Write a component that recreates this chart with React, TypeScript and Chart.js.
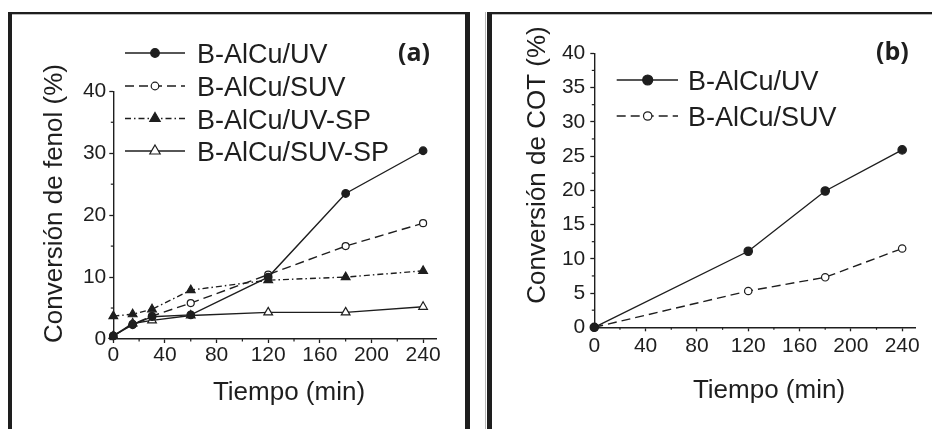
import React, { useEffect, useRef } from 'react';
import { Chart, registerables } from 'chart.js';

Chart.register(...registerables);

// ---------- data ----------
const timesA = [0, 15, 30, 60, 120, 180, 240];
const uvA = [0.5, 2.3, 3.6, 3.9, 10.0, 23.5, 30.4];
const suvA = [0.5, 2.4, 3.7, 5.8, 10.4, 15.0, 18.7];
const uvSpA = [3.7, 4.0, 4.8, 7.9, 9.5, 10.0, 11.0];
const suvSpA = [0.5, 2.5, 3.0, 3.8, 4.3, 4.3, 5.2];

const timesB = [0, 120, 180, 240];
const uvB = [0, 11.1, 19.9, 25.9];
const suvB = [0, 5.3, 7.3, 11.5];

const seriesNamesA = ['B-AlCu/UV', 'B-AlCu/SUV', 'B-AlCu/UV-SP', 'B-AlCu/SUV-SP'];
const seriesNamesB = ['B-AlCu/UV', 'B-AlCu/SUV'];

const xMinorTicks = [20, 60, 100, 140, 180, 220];
const yMinorTicksA = [5, 15, 25, 35];
const yMinorTicksB = [2.5, 7.5, 12.5, 17.5, 22.5, 27.5, 32.5, 37.5];

const xTitle = 'Tiempo (min)';
const yTitleA = 'Conversión de fenol (%)';
const yTitleB = 'Conversión de COT (%)';
const panelLabelA = '(a)';
const panelLabelB = '(b)';

// ---------- styles ----------
const INK = '#1e1e1e';
const FONT = '"Liberation Sans", Arial, Helvetica, sans-serif';

type Sty = { dash: number[]; shape: 'circle' | 'triangle'; filled: boolean; r: number; lr: number };
const solidFilledCircle: Sty = { dash: [], shape: 'circle', filled: true, r: 3.8, lr: 4.3 };
const dashedOpenCircle: Sty = { dash: [9, 5], shape: 'circle', filled: false, r: 3.5, lr: 3.8 };
const dashDotFilledTri: Sty = { dash: [6, 3, 1.5, 3], shape: 'triangle', filled: true, r: 5, lr: 6 };
const solidOpenTri: Sty = { dash: [], shape: 'triangle', filled: false, r: 5, lr: 6 };

const stylesA = [solidFilledCircle, dashedOpenCircle, dashDotFilledTri, solidOpenTri];
const stylesB = [
  { ...solidFilledCircle, r: 4.2, lr: 5 },
  { ...dashedOpenCircle, r: 3.7, lr: 4.2 },
];

function makeDataset(label: string, xs: number[], ys: number[], s: Sty) {
  return {
    label,
    data: xs.map((x, i) => ({ x, y: ys[i] })),
    borderColor: INK,
    borderWidth: 1.4,
    borderDash: s.dash,
    pointStyle: s.shape,
    pointRadius: s.r,
    pointHoverRadius: s.r,
    pointBackgroundColor: s.filled ? INK : '#ffffff',
    pointBorderColor: INK,
    pointBorderWidth: 1.2,
    tension: 0,
    clip: false as any,
    fill: false,
  };
}

function drawMarker(ctx: CanvasRenderingContext2D, x: number, y: number, s: Sty, r: number) {
  ctx.beginPath();
  if (s.shape === 'circle') {
    ctx.arc(x, y, r, 0, Math.PI * 2);
  } else {
    for (let k = 0; k < 3; k++) {
      const a = (k * 2 * Math.PI) / 3;
      const px = x + Math.sin(a) * r;
      const py = y - Math.cos(a) * r;
      if (k === 0) ctx.moveTo(px, py);
      else ctx.lineTo(px, py);
    }
    ctx.closePath();
  }
  ctx.fillStyle = s.filled ? INK : '#ffffff';
  ctx.fill();
  ctx.setLineDash([]);
  ctx.lineWidth = 1.2;
  ctx.strokeStyle = INK;
  ctx.stroke();
}

const decorPlugin = {
  id: 'decor',
  afterDraw(chart: any, _args: any, o: any) {
    const ctx: CanvasRenderingContext2D = chart.ctx;
    const ca = chart.chartArea;
    const xs = chart.scales.x;
    const ys = chart.scales.y;
    ctx.save();
    // minor ticks
    ctx.strokeStyle = INK;
    ctx.lineWidth = 1.2;
    ctx.setLineDash([]);
    for (const v of o.xMinor) {
      const px = xs.getPixelForValue(v);
      ctx.beginPath();
      ctx.moveTo(px, ca.bottom);
      ctx.lineTo(px, ca.bottom + 2.5);
      ctx.stroke();
    }
    for (const v of o.yMinor) {
      const py = ys.getPixelForValue(v);
      ctx.beginPath();
      ctx.moveTo(ca.left - 2.5, py);
      ctx.lineTo(ca.left, py);
      ctx.stroke();
    }
    // axis titles
    ctx.fillStyle = INK;
    ctx.font = `26px ${FONT}`;
    ctx.textAlign = 'center';
    ctx.textBaseline = 'alphabetic';
    ctx.fillText(o.xTitle, o.xTitleX, o.xTitleY);
    ctx.save();
    ctx.translate(o.yTitleX, o.yTitleY);
    ctx.rotate(-Math.PI / 2);
    ctx.fillText(o.yTitle, 0, 0);
    ctx.restore();
    // panel label
    ctx.font = `bold 25px "Open Sans", ${FONT}`;
    ctx.textAlign = 'left';
    ctx.fillText(o.panel, o.panelX, o.panelY);
    // legend
    const lg = o.legend;
    chart.data.datasets.forEach((ds: any, i: number) => {
      const s: Sty = lg.styles[i];
      const y = lg.rows[i];
      ctx.beginPath();
      ctx.setLineDash(s.dash);
      ctx.lineWidth = 1.4;
      ctx.strokeStyle = INK;
      ctx.moveTo(lg.x1, y);
      ctx.lineTo(lg.x2, y);
      ctx.stroke();
      drawMarker(ctx, lg.xm, y, s, s.lr);
      ctx.fillStyle = INK;
      ctx.font = `27px ${FONT}`;
      ctx.textAlign = 'left';
      ctx.textBaseline = 'alphabetic';
      ctx.fillText(ds.label, lg.xt, y + 10);
    });
    ctx.restore();
  },
};

function axes(yStep: number, yLabelPad: number, xLabelPad: number, yWidth: number, xHeight: number) {
  const common = {
    grid: {
      display: true,
      drawOnChartArea: false,
      drawTicks: true,
      tickLength: 4,
      tickColor: INK,
      tickWidth: 1.3,
    },
    border: { display: true, color: INK, width: 1.4 },
  };
  return {
    x: {
      type: 'linear' as const,
      min: 0,
      max: 250,
      ...common,
      ticks: {
        stepSize: 40,
        includeBounds: false,
        autoSkip: false,
        maxRotation: 0,
        padding: xLabelPad,
        color: INK,
        font: { family: FONT, size: 21 },
      },
      afterFit: (s: any) => {
        s.height = xHeight;
      },
    },
    y: {
      type: 'linear' as const,
      min: 0,
      max: 40,
      ...common,
      ticks: {
        stepSize: yStep,
        autoSkip: false,
        padding: yLabelPad,
        color: INK,
        font: { family: FONT, size: 21 },
      },
      afterFit: (s: any) => {
        s.width = yWidth;
      },
    },
  };
}

function PanelA() {
  const ref = useRef<HTMLCanvasElement>(null);
  useEffect(() => {
    const chart = new Chart(ref.current as HTMLCanvasElement, {
      type: 'line',
      data: {
        datasets: [
          makeDataset(seriesNamesA[0], timesA, uvA, stylesA[0]),
          makeDataset(seriesNamesA[1], timesA, suvA, stylesA[1]),
          makeDataset(seriesNamesA[2], timesA, uvSpA, stylesA[2]),
          makeDataset(seriesNamesA[3], timesA, suvSpA, stylesA[3]),
        ] as any,
      },
      options: {
        responsive: false,
        animation: false,
        devicePixelRatio: 1,
        layout: { padding: { left: 0, top: 91.3, right: 34, bottom: 0 } },
        scales: axes(10, 3, 0, 113.3, 90) as any,
        plugins: {
          legend: { display: false },
          tooltip: { enabled: false },
          decor: {
            xMinor: xMinorTicks,
            yMinor: yMinorTicksA,
            xTitle,
            xTitleX: 289,
            xTitleY: 400,
            yTitle: yTitleA,
            yTitleX: 62,
            yTitleY: 203.5,
            panel: panelLabelA,
            panelX: 398,
            panelY: 61,
            legend: { styles: stylesA, rows: [53, 86, 118.5, 151], x1: 125, x2: 185, xm: 155, xt: 197 },
          },
        } as any,
      },
      plugins: [decorPlugin],
    });
    return () => chart.destroy();
  }, []);
  return (
    <canvas
      ref={ref}
      width={470}
      height={429}
      style={{ position: 'absolute', left: 0, top: 0, width: 470, height: 429 }}
    />
  );
}

function PanelB() {
  const ref = useRef<HTMLCanvasElement>(null);
  useEffect(() => {
    const chart = new Chart(ref.current as HTMLCanvasElement, {
      type: 'line',
      data: {
        datasets: [
          makeDataset(seriesNamesB[0], timesB, uvB, stylesB[0]),
          makeDataset(seriesNamesB[1], timesB, suvB, stylesB[1]),
        ] as any,
      },
      options: {
        responsive: false,
        animation: false,
        devicePixelRatio: 1,
        layout: { padding: { left: 0, top: 53.3, right: 17, bottom: 0 } },
        scales: axes(5, 5, 2, 124.3, 101.7) as any,
        plugins: {
          legend: { display: false },
          tooltip: { enabled: false },
          decor: {
            xMinor: xMinorTicks,
            yMinor: yMinorTicksB,
            xTitle,
            xTitleX: 299,
            xTitleY: 398,
            yTitle: yTitleB,
            yTitleX: 75,
            yTitleY: 165,
            panel: panelLabelB,
            panelX: 406,
            panelY: 60,
            legend: { styles: stylesB, rows: [80, 116], x1: 146.7, x2: 208, xm: 177.7, xt: 218 },
          },
        } as any,
      },
      plugins: [decorPlugin],
    });
    return () => chart.destroy();
  }, []);
  return (
    <canvas
      ref={ref}
      width={462}
      height={429}
      style={{ position: 'absolute', left: 470, top: 0, width: 462, height: 429 }}
    />
  );
}

export default function App() {
  return (
    <div
      style={{
        position: 'fixed',
        left: 0,
        top: 0,
        width: 932,
        height: 429,
        background: '#ffffff',
        overflow: 'hidden',
      }}
    >
      <div
        style={{
          position: 'absolute',
          left: 8,
          top: 12,
          width: 462,
          height: 480,
          boxSizing: 'border-box',
          borderLeft: `4px solid ${INK}`,
          borderTop: `2px solid ${INK}`,
          borderRight: `5px solid ${INK}`,
          boxShadow: 'inset 0 1px 0 #b8b8b8',
        }}
      />
      <div
        style={{
          position: 'absolute',
          left: 485,
          top: 12,
          width: 1,
          height: 480,
          background: '#b8b8b8',
        }}
      />
      <div
        style={{
          position: 'absolute',
          left: 487,
          top: 12,
          width: 500,
          height: 480,
          boxSizing: 'border-box',
          borderLeft: `5px solid ${INK}`,
          borderTop: `2px solid ${INK}`,
          boxShadow: 'inset 0 1px 0 #b8b8b8',
        }}
      />
      <PanelA />
      <PanelB />
    </div>
  );
}
